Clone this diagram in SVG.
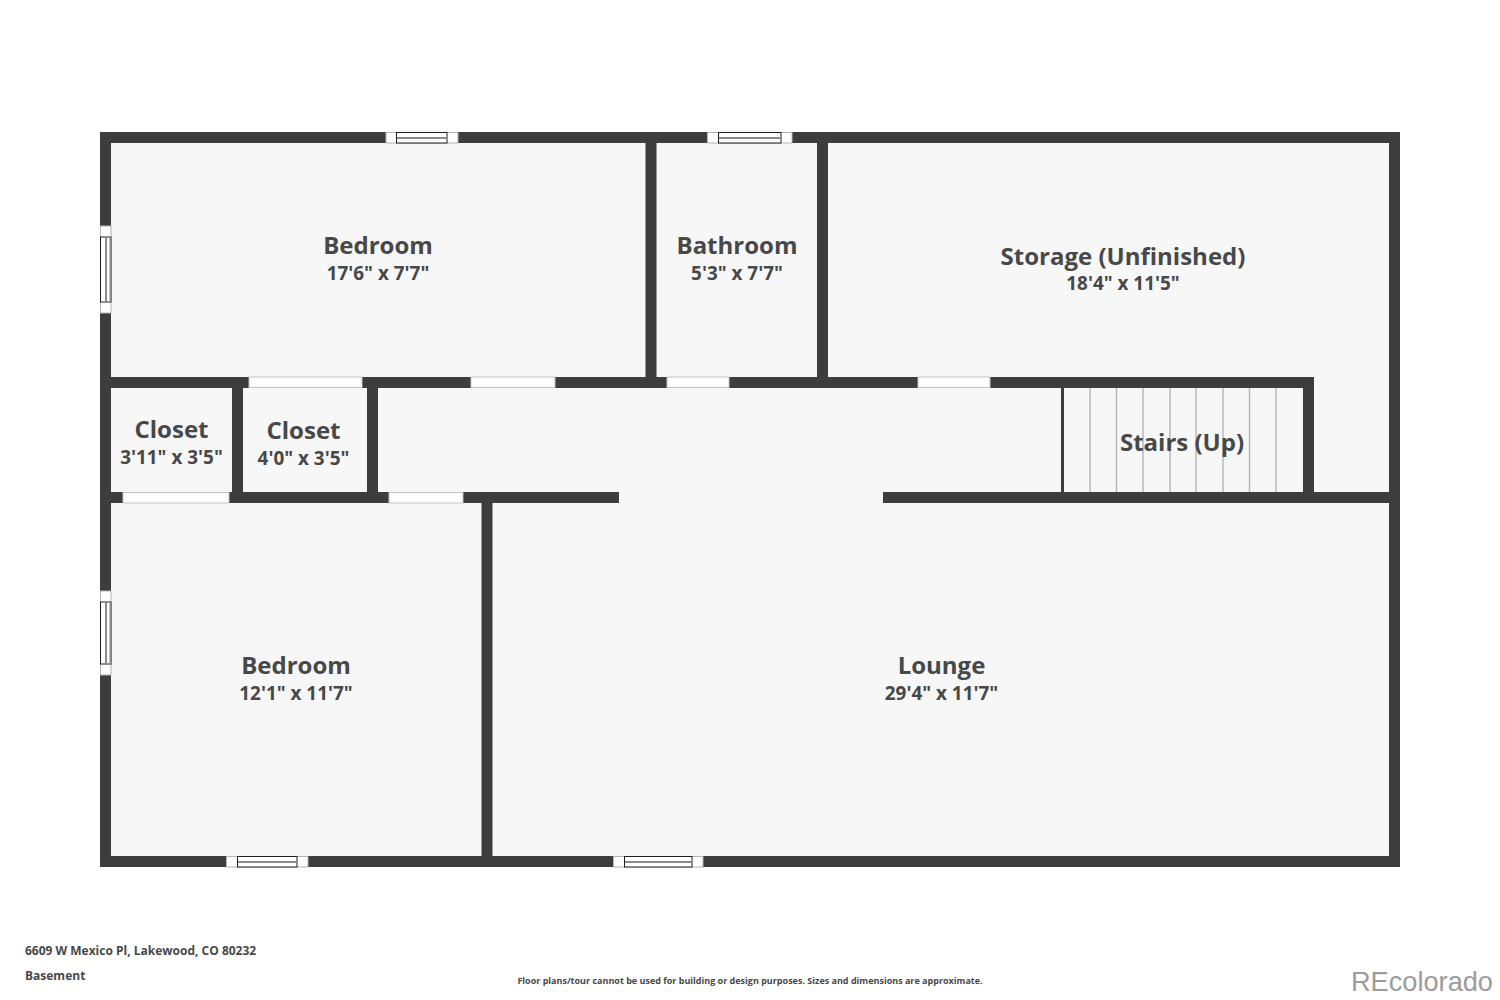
<svg xmlns="http://www.w3.org/2000/svg" width="1500" height="1000" viewBox="0 0 1500 1000">
<style>
.wall{fill:#3d3d3d}
.door{fill:#fdfdfd;stroke:#c4c4c4;stroke-width:1}
.win{fill:#fff;stroke:#b4b4b4;stroke-width:1}
.pane{fill:#fff;stroke:#1e1e1e;stroke-width:1}
.mull{stroke:#8a8a8a;stroke-width:2;fill:none}
.tread{stroke:#b5b5b5;stroke-width:1.4;fill:none}
text{font-family:"Open Sans","Noto Sans","Liberation Sans",sans-serif;font-weight:700;fill:#484848;text-anchor:middle}
.name{font-size:24px}
.size{font-size:18.9px}
.foot{font-size:12px;text-anchor:start}
.note{font-size:9px}
.brand{font-family:"Liberation Sans",Arial,sans-serif;font-weight:400;font-size:27.2px;fill:#9c9c9c;text-anchor:end}
</style>
<rect width="1500" height="1000" fill="#fff"/>
<rect x="100" y="132" width="1300" height="735" fill="#f7f7f7"/>
<g id="stairs">
<path class="tread" d="M1090 388V492M1116.500 388V492M1143 388V492M1170 388V492M1196 388V492M1223 388V492M1249.500 388V492M1276 388V492"/>
<rect class="wall" x="1061" y="388" width="3" height="104"/>
</g>
<g id="walls">
<rect class="wall" x="100" y="132" width="1300" height="11"/>
<rect class="wall" x="100" y="856" width="1300" height="11"/>
<rect class="wall" x="100" y="132" width="11" height="735"/>
<rect class="wall" x="1389" y="132" width="11" height="735"/>
<rect class="wall" x="100" y="377" width="1214" height="11"/>
<rect class="wall" x="100" y="492" width="519" height="11"/>
<rect class="wall" x="883" y="492" width="517" height="11"/>
<rect class="wall" x="645.500" y="143" width="11" height="234"/>
<rect class="wall" x="817" y="143" width="11" height="234"/>
<rect class="wall" x="232" y="388" width="11" height="104"/>
<rect class="wall" x="367" y="388" width="11" height="104"/>
<rect class="wall" x="481.500" y="503" width="11" height="353"/>
<rect class="wall" x="1303" y="388" width="11" height="104"/>
</g>
<g id="doors">
<rect class="door" x="249" y="377" width="113" height="10.500"/>
<rect class="door" x="471" y="377" width="84" height="10.500"/>
<rect class="door" x="667" y="377" width="62" height="10.500"/>
<rect class="door" x="918" y="377" width="72" height="10.500"/>
<rect class="door" x="123" y="492.500" width="106" height="10.500"/>
<rect class="door" x="389" y="492.500" width="74" height="10.500"/>
</g>
<g id="windows">
<rect class="win" x="386" y="132.500" width="72" height="10.500"/><rect class="pane" x="396.500" y="132.500" width="50.500" height="10.500"/><path class="mull" d="M397 138H447"/>
<rect class="win" x="707.500" y="132.500" width="84.500" height="10.500"/><rect class="pane" x="718.500" y="132.500" width="62.500" height="10.500"/><path class="mull" d="M719 138H781"/>
<rect class="win" x="226.500" y="856.500" width="81.500" height="10.500"/><rect class="pane" x="237.500" y="856.500" width="59.500" height="10.500"/><path class="mull" d="M238 862H297"/>
<rect class="win" x="613.500" y="856.500" width="89.500" height="10.500"/><rect class="pane" x="624.500" y="856.500" width="67.500" height="10.500"/><path class="mull" d="M625 862H692"/>
<rect class="win" x="100.500" y="226" width="10.500" height="87"/><rect class="pane" x="100.500" y="237" width="10.500" height="65"/><path class="mull" d="M106 237V302M110.500 237V302"/>
<rect class="win" x="100.500" y="591" width="10.500" height="84"/><rect class="pane" x="100.500" y="602" width="10.500" height="62"/><path class="mull" d="M106 602V664M110.500 602V664"/>
</g>
<g id="bedroom-1"><text class="name" x="378" y="254">Bedroom</text><text class="size" x="378" y="280">17'6" x 7'7"</text></g>
<g id="bathroom"><text class="name" x="737" y="254">Bathroom</text><text class="size" x="737" y="280">5'3" x 7'7"</text></g>
<g id="storage"><text class="name" x="1123" y="265">Storage (Unfinished)</text><text class="size" x="1123" y="290">18'4" x 11'5"</text></g>
<g id="closet-1"><text class="name" x="171.500" y="438">Closet</text><text class="size" x="171.500" y="464">3'11" x 3'5"</text></g>
<g id="closet-2"><text class="name" x="303.500" y="439">Closet</text><text class="size" x="303.500" y="465">4'0" x 3'5"</text></g>
<g id="stairs-label"><text class="name" x="1182" y="451">Stairs (Up)</text></g>
<g id="bedroom-2"><text class="name" x="296" y="674">Bedroom</text><text class="size" x="296" y="700">12'1" x 11'7"</text></g>
<g id="lounge"><text class="name" x="941.500" y="674">Lounge</text><text class="size" x="941.500" y="700">29'4" x 11'7"</text></g>
<text class="foot" x="25" y="955">6609 W Mexico Pl, Lakewood, CO 80232</text>
<text class="foot" x="25" y="980">Basement</text>
<text class="note" x="750" y="984">Floor plans/tour cannot be used for building or design purposes. Sizes and dimensions are approximate.</text>
<text class="brand" x="1493" y="991">REcolorado</text>
</svg>
